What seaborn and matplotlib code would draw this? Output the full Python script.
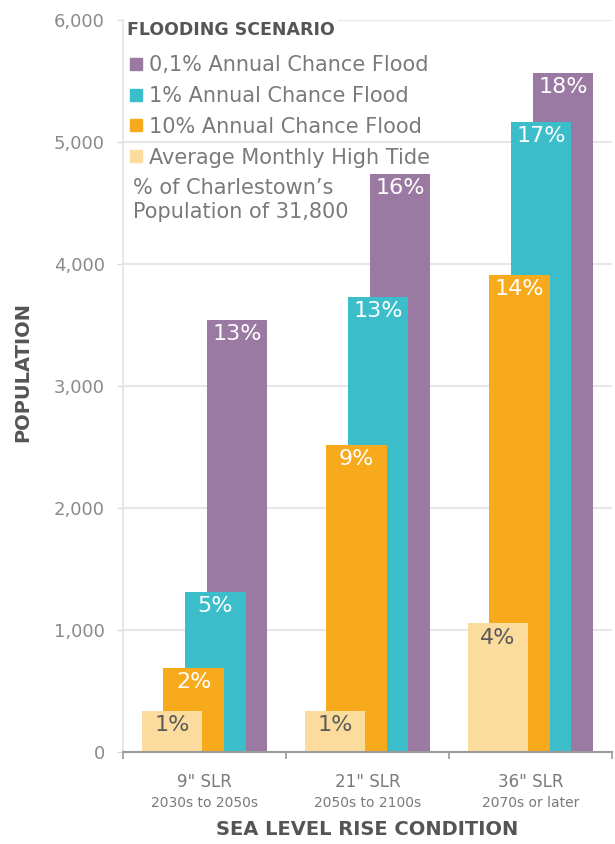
import numpy as np
import matplotlib.pyplot as plt
import seaborn as sns
from matplotlib.lines import Line2D

conditions = ['9" SLR', '21" SLR', '36" SLR']
periods = ['2030s to 2050s', '2050s to 2100s', '2070s or later']
scenarios = ['0,1% Annual Chance Flood', '1% Annual Chance Flood',
             '10% Annual Chance Flood', 'Average Monthly High Tide']

flood01 = [3540, 4740, 5570]
flood1 = [1310, 3730, 5165]
flood10 = [690, 2515, 3915]
tide = [340, 340, 1055]

flood01_pct = ['13%', '16%', '18%']
flood1_pct = ['5%', '13%', '17%']
flood10_pct = ['2%', '9%', '14%']
tide_pct = ['1%', '1%', '4%']

colors = ['#9a7aa2', '#3bbdca', '#f7aa1c', '#fbdc9c']

sns.set_theme(style='white')
plt.rcParams['font.family'] = ['DejaVu Sans']

fig = plt.figure(figsize=(6.15, 8.44), dpi=100)
ax = fig.add_axes([0.2, 0.109, 0.795, 0.867])
ax.set_axisbelow(True)
ax.yaxis.grid(True, color='#e6e6e6', linewidth=1.5)

# back to front: purple, teal, orange, light
series = [(flood01, flood01_pct, colors[0], 0.2, 'white'),
          (flood1, flood1_pct, colors[1], 0.0667, 'white'),
          (flood10, flood10_pct, colors[2], -0.0667, 'white'),
          (tide, tide_pct, colors[3], -0.2, '#5a5a5a')]

x = np.arange(len(conditions))
for vals, pcts, col, off, tcol in series:
    sns.barplot(x=x + off, y=vals, native_scale=True, orient='x', width=0.37,
                color=col, saturation=1, linewidth=0, ax=ax)
    for p, lbl in zip(ax.containers[-1], pcts):
        ax.annotate(lbl, (p.get_x() + p.get_width() / 2, p.get_height()),
                    xytext=(0, -3), textcoords='offset points',
                    ha='center', va='top', fontsize=16, color=tcol)

ax.set_xlim(-0.5, 2.5)
ax.set_ylim(0, 6000)
ax.set_yticks(range(0, 6001, 1000))
ax.set_yticklabels([f'{v:,}' for v in range(0, 6001, 1000)])
ax.tick_params(axis='y', length=4, width=1, color='#dddddd', pad=9,
               labelsize=13, labelcolor='#8a8a8a', left=True)

ax.set_xticks(x)
ax.set_xticklabels(conditions)
ax.tick_params(axis='x', which='major', length=0, pad=15, labelsize=12,
               labelcolor='#7a7a7a')
ax.set_xticks([-0.5, 0.5, 1.5, 2.5], minor=True)
ax.tick_params(axis='x', which='minor', length=5, width=1.2, color='#9a9a9a',
               bottom=True)
for i, per in enumerate(periods):
    ax.annotate(per, (i, 0), xycoords=('data', 'axes fraction'),
                xytext=(0, -37), textcoords='offset points',
                ha='center', va='center', fontsize=10, color='#7a7a7a')

for s in ['top', 'right']:
    ax.spines[s].set_visible(False)
ax.spines['bottom'].set_color('#9a9a9a')
ax.spines['bottom'].set_linewidth(1.5)
ax.spines['left'].set_color('#e5e5e5')

ax.set_xlabel('SEA LEVEL RISE CONDITION', fontsize=14, fontweight='bold',
              color='#555555')
ax.xaxis.set_label_coords(0.5, -0.093)
ax.set_ylabel('POPULATION', fontsize=14, fontweight='bold', color='#555555')
ax.yaxis.set_label_coords(-0.186, 0.519)

# legend title drawn on a white box so the top gridline stops behind it
fig.text(127 / 615, 1 - 30 / 844, 'FLOODING SCENARIO', ha='left', va='center',
         fontsize=12.5, fontweight='bold', color='#555555',
         bbox=dict(facecolor='white', edgecolor='none', pad=2))

handles = [Line2D([], [], marker='s', ls='', color=c, markersize=8) for c in colors]
leg = ax.legend(handles, scenarios, loc='upper left',
                bbox_to_anchor=(130 / 615, 1 - 55 / 844),
                bbox_transform=fig.transFigure, frameon=False,
                handlelength=0.6, handletextpad=0.3,
                labelspacing=0.52, borderpad=0, borderaxespad=0, fontsize=15,
                labelcolor='#7a7a7a')

fig.text(133 / 615, 1 - 178 / 844, '% of Charlestown\u2019s\nPopulation of 31,800',
         ha='left', va='top', fontsize=15, color='#7a7a7a', linespacing=1.25)

fig.savefig('out.png', dpi=100)
